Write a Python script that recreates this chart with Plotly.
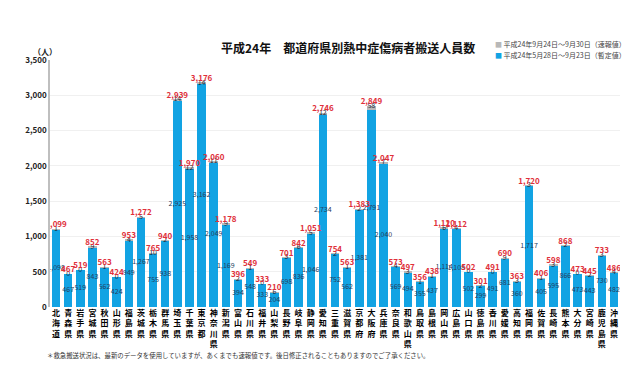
import plotly.graph_objects as go

prefectures = ["北海道", "青森県", "岩手県", "宮城県", "秋田県", "山形県", "福島県", "茨城県", "栃木県", "群馬県",
               "埼玉県", "千葉県", "東京都", "神奈川県", "新潟県", "富山県", "石川県", "福井県", "山梨県", "長野県",
               "岐阜県", "静岡県", "愛知県", "三重県", "滋賀県", "京都府", "大阪府", "兵庫県", "奈良県", "和歌山県",
               "鳥取県", "島根県", "岡山県", "広島県", "山口県", "徳島県", "香川県", "愛媛県", "高知県", "福岡県",
               "佐賀県", "長崎県", "熊本県", "大分県", "宮崎県", "鹿児島県", "沖縄県"]

# 平成24年5月28日～9月23日（暫定値）
confirmed = [1098, 467, 519, 843, 562, 424, 949, 1267, 755, 938,
             2925, 1958, 3162, 2049, 1169, 394, 548, 333, 204, 698,
             836, 1046, 2734, 752, 562, 1381, 2791, 2040, 569, 494,
             355, 437, 1114, 1108, 502, 299, 491, 681, 360, 1717,
             405, 595, 866, 473, 443, 730, 482]

# 平成24年9月24日～9月30日（速報値）
preliminary = [1, 0, 0, 9, 1, 0, 4, 5, 10, 2,
               14, 12, 14, 11, 9, 2, 1, 0, 6, 3,
               6, 5, 12, 2, 1, 2, 58, 7, 4, 3,
               1, 1, 6, 4, 0, 2, 0, 9, 3, 3,
               1, 3, 2, 0, 2, 3, 4]

series_names = ["平成24年9月24日～9月30日（速報値）", "平成24年5月28日～9月23日（暫定値）"]
series_colors = ["#b8b8b8", "#12a3e3"]

totals = [c + p for c, p in zip(confirmed, preliminary)]
y_ticks = [0, 500, 1000, 1500, 2000, 2500, 3000, 3500]

tick_text = ["<b>" + "<br>".join(list(p)) + "</b>" for p in prefectures]

fig = go.Figure()
fig.add_trace(go.Bar(x=prefectures, y=confirmed, name=series_names[1],
                     marker=dict(color=series_colors[1], line=dict(width=0)),
                     hoverinfo="skip", showlegend=False))
fig.add_trace(go.Bar(x=prefectures, y=preliminary, name=series_names[0],
                     marker=dict(color=series_colors[0], line=dict(width=0)),
                     hoverinfo="skip", showlegend=False))

# inner labels (confirmed)
fig.add_trace(go.Scatter(x=prefectures, y=[c / 2 for c in confirmed], mode="text",
                         text=[f"{c:,}" for c in confirmed], showlegend=False,
                         textfont=dict(size=7, color="#23405e", family="Noto Sans CJK JP"),
                         hoverinfo="skip"))
# top labels (preliminary)
fig.add_trace(go.Scatter(x=prefectures, y=totals, mode="text",
                         text=[str(p) for p in preliminary], showlegend=False,
                         textposition="middle center",
                         textfont=dict(size=7, color="#1a2a3a", family="Noto Sans CJK JP"),
                         hoverinfo="skip"))
# totals
fig.add_trace(go.Scatter(x=prefectures, y=totals, mode="text",
                         text=[f"{t:,}" for t in totals], showlegend=False,
                         textposition="top center",
                         textfont=dict(size=8, color="#e0303a", family="Noto Sans CJK JP"),
                         texttemplate="<b>%{text}</b>",
                         hoverinfo="skip"))

# page has an 8px body margin; work in screen pixels
OFF = 8
W, H = 640 - 2 * OFF, 376 - 2 * OFF
scr_l, scr_r, scr_t, scr_b = 50, 620, 60, 307
m_l = scr_l - OFF
m_r = W - (scr_r - OFF)
m_t = scr_t - OFF
m_b = H - (scr_b - OFF)
plot_w = scr_r - scr_l
plot_h = scr_b - scr_t


def px_x(x):
    return (x - scr_l) / plot_w


def px_y(y):
    return (scr_b - y) / plot_h


legend_ann = [
    dict(text=f"<span style='color:{series_colors[i]}'>■</span> {series_names[i]}",
         x=px_x(493), y=px_y(44 + 11 * i), xref="paper", yref="paper",
         xanchor="left", yanchor="middle", showarrow=False,
         font=dict(size=7, color="#444444"))
    for i in range(2)
]

fig.update_layout(
    width=W, height=H,
    barmode="stack", bargap=0.3,
    paper_bgcolor="white", plot_bgcolor="white",
    margin=dict(l=m_l, r=m_r, t=m_t, b=m_b, autoexpand=False, pad=0),
    font=dict(family="Noto Sans CJK JP", color="#222222"),
    showlegend=False,
    xaxis=dict(tickmode="array", tickvals=prefectures, ticktext=tick_text, automargin=False,
               tickfont=dict(size=8, color="#000000", family="Noto Sans CJK JP"),
               tickangle=0, showline=False, ticks="", showgrid=False, range=[-0.5, 46.5]),
    yaxis=dict(range=[0, 3500], tickvals=y_ticks, tickformat=",", automargin=False,
               tickfont=dict(size=8, color="#222222", weight="bold"),
               showline=True, linecolor="#bfbfbf", linewidth=1.5,
               showgrid=True, gridcolor="#f0f0f0", gridwidth=1, zeroline=False, ticks=""),
    annotations=[
        dict(text="<b>平成24年　都道府県別熱中症傷病者搬送人員数</b>",
             x=px_x(348), y=px_y(47), xref="paper", yref="paper",
             xanchor="center", yanchor="middle", showarrow=False,
             font=dict(size=12, color="#111111")),
        dict(text="<b>（人）</b>", x=px_x(45), xref="paper", y=px_y(52), yref="paper",
             xanchor="center", yanchor="middle",
             showarrow=False, font=dict(size=8, color="#222222")),
        dict(text="＊救急搬送状況は、最新のデータを使用していますが、あくまでも速報値です。後日修正されることもありますのでご了承ください。",
             x=px_x(45), xref="paper", y=px_y(355), yref="paper", showarrow=False,
             xanchor="left", yanchor="middle",
             font=dict(size=6.4, color="#333333")),
    ] + legend_ann,
)

fig.write_html("out.html")
